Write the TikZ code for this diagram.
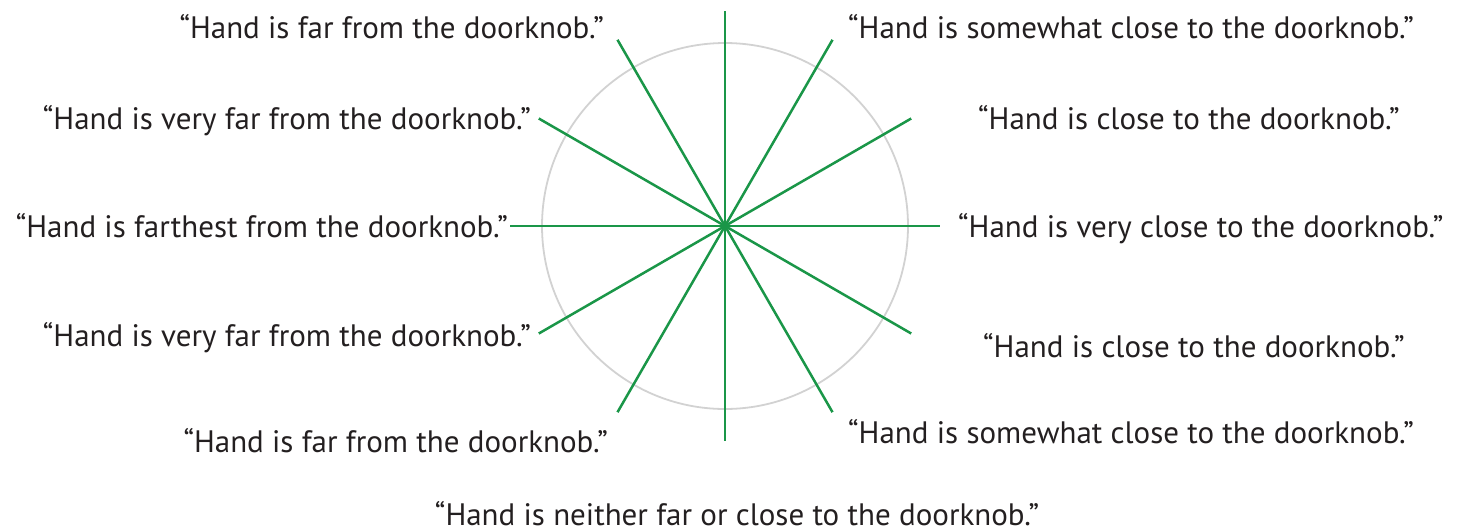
\documentclass[tikz,border=0pt]{standalone}
\usepackage{fontspec}
\setmainfont{PT Sans}
\usetikzlibrary{calc}
\begin{document}
\begin{tikzpicture}[x=1pt,y=-1pt,
  spoke/.style={draw=spokegreen,line width=2.5pt},
  ring/.style={draw=ringgray,line width=1.8pt},
  lbl/.style={inner sep=0pt,font=\fontsize{31}{34}\selectfont,text=textgray}]
\definecolor{spokegreen}{RGB}{26,150,72}
\definecolor{ringgray}{RGB}{210,210,210}
\definecolor{textgray}{RGB}{35,31,32}
\useasboundingbox (0,0) rectangle (1468,531);
\coordinate (c) at (725,226);
\draw[ring] (c) circle[radius=183];
\foreach \a/\n in {90/n,60/a,30/b,0/e,-30/d,-60/f,-90/s,-120/g,-150/h,180/w,150/i,120/j}{
  \coordinate (\n) at ($(c)+(\a:215 and -215)$);
}
\foreach \n in {n,a,b,e,d,f,s,g,h,w,i,j}{\draw[spoke] (c) -- (\n);}
\node[lbl,anchor=base east] (l1) at (604,38) {“Hand is far from the doorknob.”};
\node[lbl,anchor=base west] (l2) at (848,38) {“Hand is somewhat close to the doorknob.”};
\node[lbl,anchor=base east] (l3) at (531,129) {“Hand is very far from the doorknob.”};
\node[lbl,anchor=base west] (l4) at (978,129) {“Hand is close to the doorknob.”};
\node[lbl,anchor=base east] (l5) at (508,237) {“Hand is farthest from the doorknob.”};
\node[lbl,anchor=base west] (l6) at (958,237) {“Hand is very close to the doorknob.”};
\node[lbl,anchor=base east] (l7) at (531,346) {“Hand is very far from the doorknob.”};
\node[lbl,anchor=base west] (l8) at (983,357) {“Hand is close to the doorknob.”};
\node[lbl,anchor=base east] (l9) at (608,452) {“Hand is far from the doorknob.”};
\node[lbl,anchor=base west] (l10) at (848,443) {“Hand is somewhat close to the doorknob.”};
\node[lbl,anchor=base] (l11) at (737,525) {“Hand is neither far or close to the doorknob.”};
\end{tikzpicture}
\end{document}
